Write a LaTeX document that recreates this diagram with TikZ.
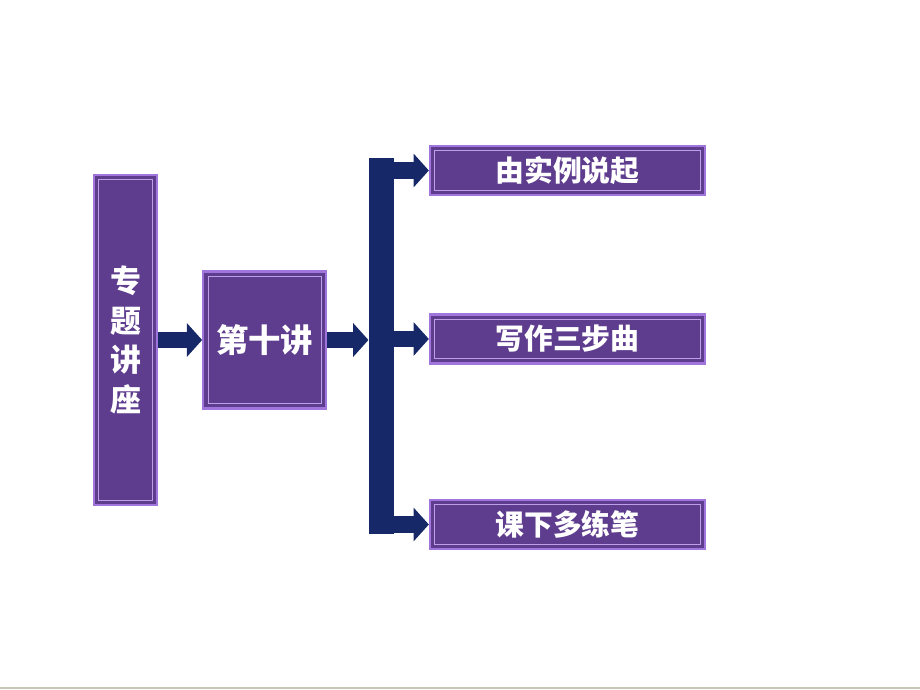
\documentclass[tikz,border=0pt]{standalone}
\usepackage{fontspec}
\newfontfamily\cjk{Noto Sans CJK SC}
\usepackage{tikz}
\usetikzlibrary{arrows.meta,positioning}
\definecolor{BoxFill}{RGB}{94,60,142}
\definecolor{BoxEdge}{RGB}{160,118,220}
\definecolor{NavyBar}{RGB}{22,40,104}
\definecolor{BaseGray}{RGB}{200,200,180}
\tikzset{
  topicbox/.style={draw=BoxEdge,line width=1.6pt,fill=BoxFill,
    inner sep=0pt,align=center,text=white,font=\cjk\bfseries,
    path picture={\draw[BoxEdge!70,line width=0.6pt]
      ([shift={(3.5pt,3.5pt)}]path picture bounding box.south west) rectangle
      ([shift={(-3.5pt,-3.5pt)}]path picture bounding box.north east);}},
  branchbox/.style={topicbox,minimum width=6.875cm,minimum height=1.225cm,
    font=\cjk\bfseries\fontsize{20.5pt}{22pt}\selectfont},
  busbar/.style={fill=NavyBar,draw=none,minimum width=0.625cm,
    minimum height=9.4cm,inner sep=0pt},
  blockarrow/.style={draw=NavyBar,line width=0.42cm,
    -{Triangle[length=0.38cm,width=0.82cm]}},
}

\begin{document}
\begin{tikzpicture}[x=0.025cm,y=-0.025cm]
  \useasboundingbox (0,0) rectangle (920,690);
  % left column
  \node[topicbox,minimum width=1.575cm,minimum height=8.25cm,
        font=\cjk\bfseries\fontsize{22pt}{28pt}\selectfont]
        (zt) at (125.5,340) {专\\题\\讲\\座};
  \node[topicbox,minimum width=3.075cm,minimum height=3.425cm,
        font=\cjk\bfseries\fontsize{23pt}{26pt}\selectfont,right=1.1cm of zt]
        (d10) {第十讲};
  \node[busbar,right=1.025cm of d10,yshift=-0.15cm] (bus) {};
  % right column
  \node[branchbox] (ex) at (567.5,170.5) {由实例说起};
  \node[branchbox] (wr) at (567.5,339) {写作三步曲};
  \node[branchbox] (hw) at (567.5,524.5) {课下多练笔};
  % arrows
  \draw[blockarrow] (zt.east) -- (d10.west);
  \draw[blockarrow] (d10.east) -- (d10.east -| bus.west);
  \draw[blockarrow] ([xshift=-2pt]bus.east |- ex.west) -- (ex.west);
  \draw[blockarrow] ([xshift=-2pt]bus.east |- wr.west) -- (wr.west);
  \draw[blockarrow] ([xshift=-2pt]bus.east |- hw.west) -- (hw.west);
  % base line
  \draw[BaseGray,line width=1.5pt] (0,688) -- (920,688);
\end{tikzpicture}
\end{document}
